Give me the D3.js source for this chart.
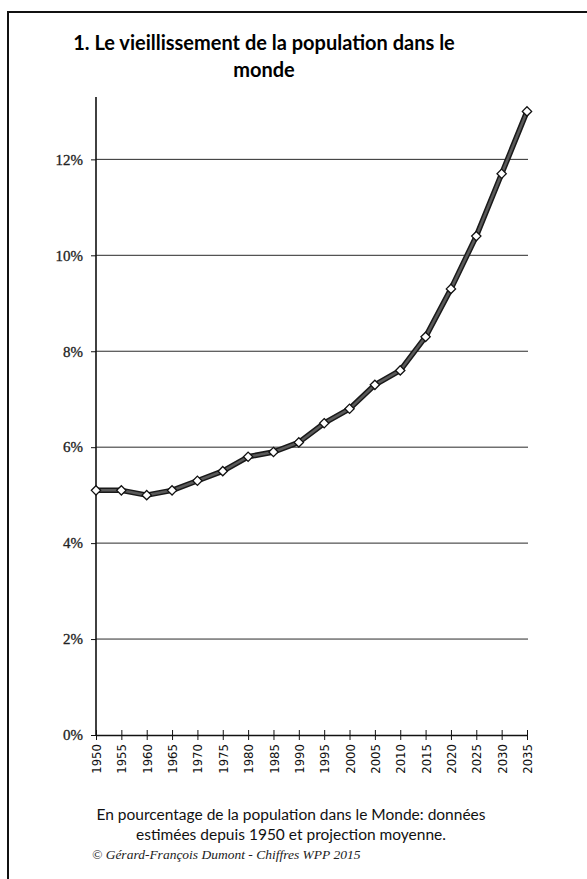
<!DOCTYPE html>
<html>
<head>
<meta charset="utf-8">
<script src="https://cdn.jsdelivr.net/npm/d3@7"></script>
<style>
  body { margin: 0; background: #fff; }
</style>
</head>
<body>
<div id="chart"></div>
<script>
// data
const years = [1950, 1955, 1960, 1965, 1970, 1975, 1980, 1985, 1990, 1995,
               2000, 2005, 2010, 2015, 2020, 2025, 2030, 2035];
const share = [5.1, 5.1, 5.0, 5.1, 5.3, 5.5, 5.8, 5.9, 6.1, 6.5,
               6.8, 7.3, 7.6, 8.3, 9.3, 10.4, 11.7, 13.0];
const yTicks = [0, 2, 4, 6, 8, 10, 12];
const titleLines = ["1. Le vieillissement de la population dans le", "monde"];
const captionLines = ["En pourcentage de la population dans le Monde: données",
                      "estimées depuis 1950 et projection moyenne."];
const credit = "© Gérard-François Dumont - Chiffres WPP 2015";

const W = 587, H = 879;

const svg = d3.select("#chart")
  .append("svg")
    .attr("width", W)
    .attr("height", H);

// frame (right and bottom edges fall outside the picture)
svg.append("rect")
  .attr("x", 8).attr("y", 12)
  .attr("width", W).attr("height", H)
  .attr("fill", "none")
  .attr("stroke", "#111")
  .attr("stroke-width", 2);

// title
svg.append("g").selectAll("text")
  .data(titleLines)
  .enter()
  .append("text")
    .attr("x", 264)
    .attr("y", (d, i) => 50 + i * 27)
    .attr("text-anchor", "middle")
    .attr("font-family", "Lato, 'Open Sans', sans-serif")
    .attr("font-weight", "bold")
    .attr("font-size", "20px")
    .attr("fill", "#000")
    .text(d => d);

// scales
const x = d3.scaleLinear()
  .domain([1950, 2035])
  .range([96, 527]);
const y = d3.scaleLinear()
  .domain([0, 13.3])
  .range([735, 97]);

// grid lines
svg.append("g")
  .selectAll("line")
  .data(yTicks.filter(d => d > 0))
  .enter()
  .append("line")
    .attr("x1", x(1950))
    .attr("x2", x(2035) + 1)
    .attr("y1", d => y(d))
    .attr("y2", d => y(d))
    .attr("stroke", "#2a2a2a")
    .attr("stroke-width", 1);

// y axis
const yAxis = svg.append("g")
  .attr("transform", "translate(" + x(1950) + ",0)")
  .call(d3.axisLeft(y)
    .tickValues(yTicks)
    .tickSize(5)
    .tickFormat(d => d + "%"));
yAxis.select(".domain").remove();
yAxis.append("line")
  .attr("y1", y(0)).attr("y2", y(13.3))
  .attr("stroke", "#111").attr("stroke-width", 1.6);
yAxis.selectAll(".tick line").attr("stroke", "#111");
yAxis.selectAll(".tick text")
  .attr("font-family", "'Liberation Serif', 'Times New Roman', serif")
  .attr("font-size", "15px")
  .attr("fill", "#222")
  .attr("stroke", "#222")
  .attr("stroke-width", 0.3)
  .attr("x", -13);

// x axis
const xAxis = svg.append("g")
  .attr("transform", "translate(0," + y(0) + ")")
  .call(d3.axisBottom(x)
    .tickValues(years)
    .tickSizeInner(5)
    .tickSizeOuter(0)
    .tickFormat(d => d));
xAxis.select(".domain").attr("stroke", "#111").attr("stroke-width", 1.6);
xAxis.selectAll(".tick line")
  .attr("y1", -5)
  .attr("stroke", "#111");
xAxis.selectAll(".tick text")
  .attr("font-family", "'Liberation Sans Narrow', 'DejaVu Sans Condensed', sans-serif")
  .attr("font-size", "13px")
  .attr("fill", "#111")
  .attr("text-anchor", "end")
  .attr("dy", "0.35em")
  .attr("transform", "translate(0,9) rotate(-90)")
  .attr("x", 0)
  .attr("y", 0);

// line
const pts = years.map((yr, i) => [yr, share[i]]);
const line = d3.line()
  .x(d => x(d[0]))
  .y(d => y(d[1]));

svg.append("path")
  .datum(pts)
  .attr("d", line)
  .attr("fill", "none")
  .attr("stroke", "#1a1a1a")
  .attr("stroke-width", 5.5)
  .attr("stroke-linejoin", "round");
svg.append("path")
  .datum(pts)
  .attr("d", line)
  .attr("fill", "none")
  .attr("stroke", "#5a5a5a")
  .attr("stroke-width", 2.5)
  .attr("stroke-linejoin", "round");

// diamond markers
svg.append("g")
  .selectAll("path")
  .data(pts)
  .enter()
  .append("path")
    .attr("d", d3.symbol().type(d3.symbolDiamond2).size(55))
    .attr("transform", d => "translate(" + x(d[0]) + "," + y(d[1]) + ")")
    .attr("fill", "#fff")
    .attr("stroke", "#111")
    .attr("stroke-width", 1.3);

// caption
svg.append("g").selectAll("text")
  .data(captionLines)
  .enter()
  .append("text")
    .attr("x", 291)
    .attr("y", (d, i) => 820 + i * 20)
    .attr("text-anchor", "middle")
    .attr("font-family", "Lato, 'Open Sans', sans-serif")
    .attr("font-size", "15.5px")
    .attr("fill", "#111")
    .text(d => d);

svg.append("text")
  .attr("x", 92)
  .attr("y", 859)
  .attr("font-family", "'Liberation Serif', 'Times New Roman', serif")
  .attr("font-style", "italic")
  .attr("font-size", "13.5px")
  .attr("fill", "#222")
  .text(credit);
</script>
</body>
</html>
